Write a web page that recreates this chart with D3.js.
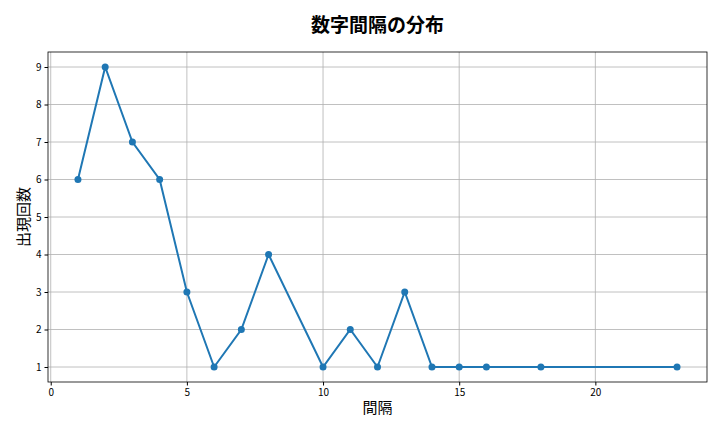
<!DOCTYPE html>
<html><head><meta charset="utf-8">
<script src="https://cdn.jsdelivr.net/npm/d3@7"></script>
<style>body{margin:0;background:#fff}</style></head>
<body><svg id="c" width="720" height="432"></svg>
<script>
const gaps = [1,2,3,4,5,6,7,8,10,11,12,13,14,15,16,18,23];
const counts = [6,9,7,6,3,1,2,4,1,2,1,3,1,1,1,1,1];
const xTicks = [0,5,10,15,20];
const yTicks = [1,2,3,4,5,6,7,8,9];
const title = "数字間隔の分布", xLabel = "間隔", yLabel = "出現回数";
const font = "'Noto Sans CJK JP', sans-serif";
const svg = d3.select("#c");
const L=48,R=707,T=52,B=382;
const x = d3.scaleLinear().domain([-0.1,24.1]).range([L,R]);
const y = d3.scaleLinear().domain([0.6,9.4]).range([B,T]);
const g = svg.append("g");
g.selectAll(".gx").data(xTicks).join("line").attr("x1",d=>x(d)).attr("x2",d=>x(d)).attr("y1",T).attr("y2",B).attr("stroke","#b0b0b0").attr("stroke-width",0.8);
g.selectAll(".gy").data(yTicks).join("line").attr("y1",d=>y(d)).attr("y2",d=>y(d)).attr("x1",L).attr("x2",R).attr("stroke","#b0b0b0").attr("stroke-width",0.8);
const xa = svg.append("g").attr("transform",`translate(0,${B})`).call(d3.axisBottom(x).tickValues(xTicks).tickSize(3.5).tickPadding(3));
const ya = svg.append("g").attr("transform",`translate(${L},0)`).call(d3.axisLeft(y).tickValues(yTicks).tickSize(3.5).tickPadding(3));
[xa,ya].forEach(a=>{a.select(".domain").remove();a.selectAll("text").attr("font-family",font).attr("font-size",10).attr("fill","#000");});
svg.append("rect").attr("x",L).attr("y",T).attr("width",R-L).attr("height",B-T).attr("fill","none").attr("stroke","#000").attr("stroke-width",0.8);
const pts = gaps.map((d,i)=>[d,counts[i]]);
svg.append("path").datum(pts).attr("d",d3.line().x(d=>x(d[0])).y(d=>y(d[1]))).attr("fill","none").attr("stroke","#1f77b4").attr("stroke-width",2);
svg.selectAll(".p").data(pts).join("circle").attr("cx",d=>x(d[0])).attr("cy",d=>y(d[1])).attr("r",3.5).attr("fill","#1f77b4");
svg.append("text").attr("x",(L+R)/2).attr("y",32).attr("text-anchor","middle").attr("font-family",font).attr("font-size",19).attr("font-weight","bold").text(title);
svg.append("text").attr("x",(L+R)/2).attr("y",413).attr("text-anchor","middle").attr("font-family",font).attr("font-size",15).text(xLabel);
svg.append("text").attr("transform",`translate(29,${(T+B)/2}) rotate(-90)`).attr("text-anchor","middle").attr("font-family",font).attr("font-size",15).text(yLabel);
</script></body></html>
